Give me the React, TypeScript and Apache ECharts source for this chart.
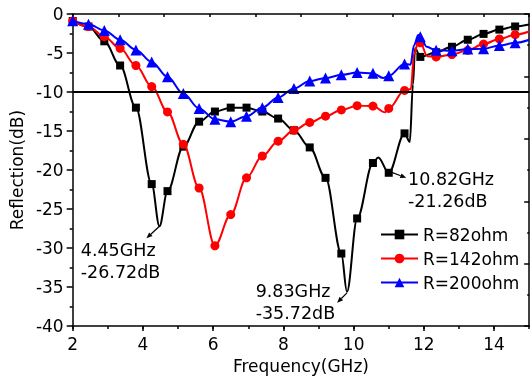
import React, { useEffect, useRef } from "react";
import * as echarts from "echarts";

// Frequencies (GHz) at which symbols are drawn
const markerFreq = [2.0, 2.45, 2.9, 3.35, 3.8, 4.25, 4.7, 5.15, 5.6, 6.05, 6.5, 6.95, 7.4, 7.85, 8.3, 8.75, 9.2, 9.65, 10.1, 10.55, 11.0, 11.45, 11.9, 12.35, 12.8, 13.25, 13.7, 14.15, 14.6];

// Reflection (dB) at the marker frequencies
const r82 = [-0.9, -1.6, -3.5, -6.6, -12.0, -21.8, -22.7, -17.0, -13.8, -12.5, -12.0, -12.0, -12.5, -13.4, -14.9, -17.1, -21.0, -30.7, -26.2, -19.1, -20.35, -15.3, -5.5, -4.9, -4.2, -3.3, -2.55, -2.0, -1.6];
const r142 = [-0.9, -1.6, -2.9, -4.4, -6.6, -9.3, -12.55, -16.7, -22.3, -29.7, -25.7, -21.0, -18.2, -16.3, -14.9, -13.9, -13.1, -12.3, -11.75, -11.8, -12.1, -9.8, -3.7, -5.5, -5.2, -4.65, -3.85, -3.2, -2.65];
const r200 = [-0.85, -1.3, -2.1, -3.3, -4.6, -6.15, -8.05, -10.2, -12.1, -13.5, -13.8, -13.1, -12.0, -10.7, -9.55, -8.6, -8.2, -7.8, -7.5, -7.6, -7.9, -6.4, -2.9, -4.65, -4.7, -4.5, -4.45, -4.05, -3.7];

// Intermediate curve points (no symbol) [GHz, dB]
const r82Between = [[4.47, -27.2], [9.81, -35.6], [10.7, -18.4], [11.6, -16.4], [11.69, -9.0], [11.75, -4.4], [15.0, -1.35]];
const r142Between = [[10.9, -12.6], [11.63, -9.6], [11.72, -5.2], [11.84, -3.6], [12.1, -5.4], [15.0, -2.25]];
const r200Between = [[10.84, -8.2], [11.62, -6.5], [11.72, -4.0], [11.84, -2.7], [12.08, -4.2], [15.0, -3.3]];

const seriesNames = ["R=82ohm", "R=142ohm", "R=200ohm"];
const seriesColors = ["#000000", "#ff0000", "#0000ff"];
const seriesSymbols = ["rect", "circle", "triangle"];
const seriesSymbolSizes = [8, 9, 11];

const thresholdDb = -10;

// Annotations: label, text anchor (GHz, dB), arrow tail, arrow head
const annoLabels = ["4.45GHz\n-26.72dB", "9.83GHz\n-35.72dB", "10.82GHz\n-21.26dB"];
const annoTextAt = [[2.23, -30.24], [7.21, -35.46], [11.55, -21.1]];
const annoArrowFrom = [[4.47, -27.2], [9.81, -35.75], [11.03, -20.2]];
const annoArrowTo = [[4.1, -28.75], [9.53, -37.0], [11.5, -21.0]];

const FONT = "DejaVu Sans";

function buildData(values: number[], extra: number[][]) {
  const pts: any[] = [];
  markerFreq.forEach((f, i) => pts.push({ value: [f, values[i]] }));
  extra.forEach((p) => pts.push({ value: [p[0], p[1]], symbol: "none" }));
  pts.sort((a, b) => a.value[0] - b.value[0]);
  return pts;
}

export default function App() {
  const ref = useRef<HTMLDivElement>(null);
  useEffect(() => {
    if (!ref.current) return;
    const chart = echarts.init(ref.current, null, { renderer: "svg" });
    const datasets = [buildData(r82, r82Between), buildData(r142, r142Between), buildData(r200, r200Between)];
    const axisLine = { onZero: false, lineStyle: { color: "#000", width: 1.5 } };
    const tickStyle = { color: "#000", width: 1.5 };
    const option: any = {
      animation: false,
      textStyle: { fontFamily: FONT },
      grid: { left: 72.7, right: 0.8, top: 14, bottom: 50.5 },
      legend: {
        orient: "vertical",
        left: 380,
        top: 226,
        padding: 0,
        itemWidth: 37,
        itemHeight: 12,
        itemGap: 7,
        textStyle: { fontSize: 17, color: "#000", fontFamily: FONT },
        data: seriesNames,
      },
      xAxis: [
        {
          type: "value", min: 2, max: 15, interval: 2, position: "bottom",
          name: "Frequency(GHz)", nameLocation: "middle", nameGap: 25,
          nameTextStyle: { fontSize: 17, color: "#000", fontFamily: FONT },
          axisLine, axisTick: { length: 5, lineStyle: tickStyle },
          axisLabel: { fontSize: 17, color: "#000", margin: 9, showMaxLabel: false, fontFamily: FONT },
          splitLine: { show: false },
        },
        {
          type: "value", min: 0, max: 10, interval: 1, position: "top",
          axisLine, axisTick: { inside: true, length: 3, lineStyle: tickStyle },
          axisLabel: { show: false }, splitLine: { show: false },
        },
        {
          type: "value", min: 2, max: 15, interval: 1, position: "bottom",
          axisLine: { show: false, onZero: false }, axisTick: { length: 3, lineStyle: tickStyle },
          axisLabel: { show: false }, splitLine: { show: false },
        },
      ],
      yAxis: [
        {
          type: "value", min: -40, max: 0, interval: 5, position: "left",
          name: "Reflection(dB)", nameLocation: "middle", nameGap: 46,
          nameTextStyle: { fontSize: 17, color: "#000", fontFamily: FONT },
          axisLine, axisTick: { length: 6, lineStyle: tickStyle },
          minorTick: { show: true, splitNumber: 2, length: 3, lineStyle: tickStyle },
          axisLabel: { fontSize: 17, color: "#000", margin: 9, fontFamily: FONT },
          splitLine: { show: false },
        },
        {
          type: "value", min: 0, max: 5, interval: 1, position: "right",
          axisLine, axisTick: { inside: true, length: 5, lineStyle: tickStyle },
          minorTick: { show: true, splitNumber: 2, length: 2, lineStyle: tickStyle },
          axisLabel: { show: false }, splitLine: { show: false },
        },
      ],
      series: seriesNames.map((name, i) => ({
        name,
        type: "line",
        xAxisIndex: 0,
        yAxisIndex: 0,
        data: datasets[i],
        smooth: 0.35,
        smoothMonotone: "x",
        symbol: seriesSymbols[i],
        symbolSize: seriesSymbolSizes[i],
        showSymbol: true,
        lineStyle: { color: seriesColors[i], width: 2 },
        itemStyle: { color: seriesColors[i] },
        z: 2 + i,
        markLine: i === 0 ? {
          silent: true,
          symbol: ["none", "none"],
          label: { show: false },
          lineStyle: { color: "#000", type: "solid", width: 1.8 },
          data: [{ yAxis: thresholdDb }],
        } : undefined,
      })),
    };
    chart.setOption(option);

    const graphics: any[] = [];
    annoLabels.forEach((label, i) => {
      const tp = chart.convertToPixel({ gridIndex: 0 }, annoTextAt[i]) as number[];
      graphics.push({
        type: "text",
        x: tp[0],
        y: tp[1] - 11.25,
        style: { text: label, font: `17.5px "${FONT}"`, fill: "#000", lineHeight: 22.5, verticalAlign: "top", align: "left" },
        z: 10,
      });
      const a = chart.convertToPixel({ gridIndex: 0 }, annoArrowFrom[i]) as number[];
      const b = chart.convertToPixel({ gridIndex: 0 }, annoArrowTo[i]) as number[];
      const dx = b[0] - a[0];
      const dy = b[1] - a[1];
      const len = Math.sqrt(dx * dx + dy * dy);
      const ux = dx / len;
      const uy = dy / len;
      const hl = 6;
      const hw = 2.5;
      const bx = b[0] - ux * hl;
      const by = b[1] - uy * hl;
      graphics.push({
        type: "line",
        shape: { x1: a[0], y1: a[1], x2: bx, y2: by },
        style: { stroke: "#000", lineWidth: 1.2 },
        z: 10,
      });
      graphics.push({
        type: "polygon",
        shape: { points: [[b[0], b[1]], [bx - uy * hw, by + ux * hw], [bx + uy * hw, by - ux * hw]] },
        style: { fill: "#000" },
        z: 10,
      });
    });
    chart.setOption({ graphic: graphics });

    return () => chart.dispose();
  }, []);
  return <div ref={ref} style={{ position: "fixed", left: 0, top: 0, width: 530, height: 379 }} />;
}
